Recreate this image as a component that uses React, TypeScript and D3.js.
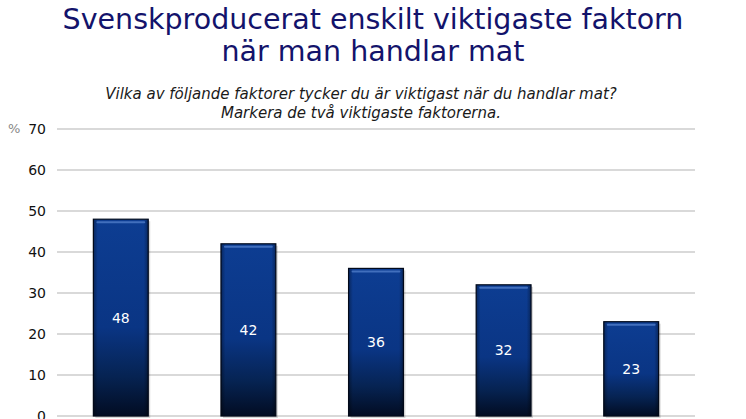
import React from 'react';
import * as d3 from 'd3';

const categories = ['A', 'B', 'C', 'D', 'E'];
const values = [48, 42, 36, 32, 23];
const yTicks = [0, 10, 20, 30, 40, 50, 60, 70];
const titleLines = ['Svenskproducerat enskilt viktigaste faktorn', 'när man handlar mat'];
const subtitleLines = [
  'Vilka av följande faktorer tycker du är viktigast när du handlar mat?',
  'Markera de två viktigaste faktorerna.',
];

const width = 746;
const height = 419;
const margin = { left: 57, right: 51, top: 129, bottom: 3 };

export default function App() {
  const x = d3
    .scaleBand<string>()
    .domain(categories)
    .range([margin.left, width - margin.right])
    .paddingInner(0.57)
    .paddingOuter(0.285);
  const y = d3
    .scaleLinear()
    .domain([0, 70])
    .range([height - margin.bottom, margin.top]);

  const font = '"DejaVu Sans", Verdana, sans-serif';

  return (
    <svg
      width={width}
      height={height}
      style={{ position: 'absolute', left: 0, top: 0, background: '#fff' }}
    >
      <defs>
        <linearGradient id="barGrad" x1="0" y1="0" x2="0" y2="1">
          <stop offset="0%" stopColor="#0d3d92" />
          <stop offset="55%" stopColor="#0a3584" />
          <stop offset="80%" stopColor="#062352" />
          <stop offset="100%" stopColor="#020c22" />
        </linearGradient>
        <linearGradient id="edgeGrad" x1="0" y1="0" x2="1" y2="0">
          <stop offset="0%" stopColor="#000" stopOpacity="0.35" />
          <stop offset="8%" stopColor="#000" stopOpacity="0" />
          <stop offset="92%" stopColor="#000" stopOpacity="0" />
          <stop offset="100%" stopColor="#000" stopOpacity="0.35" />
        </linearGradient>
      </defs>

      {/* Title */}
      {titleLines.map((t, i) => (
        <text
          key={t}
          x={373}
          y={29 + i * 32}
          textAnchor="middle"
          fontFamily={font}
          fontSize={28.5}
          fill="#13136b"
        >
          {t}
        </text>
      ))}
      {subtitleLines.map((t, i) => (
        <text
          key={t}
          x={361}
          y={99 + i * 19}
          textAnchor="middle"
          fontFamily={font}
          fontStyle="italic"
          fontSize={15}
          fill="#1a1a1a"
        >
          {t}
        </text>
      ))}

      {/* Grid */}
      {yTicks.map((t) => (
        <g key={t}>
          <line
            x1={margin.left}
            x2={width - margin.right}
            y1={y(t)}
            y2={y(t)}
            stroke="#b4b4b4"
            strokeWidth={1.2}
          />
          <text
            x={46}
            y={y(t) + 5}
            textAnchor="end"
            fontFamily={font}
            fontSize={14}
            fill="#111"
          >
            {t}
          </text>
        </g>
      ))}
      <text x={8} y={y(70) + 4} fontFamily={font} fontSize={13} fill="#888">
        %
      </text>

      {/* Bars */}
      {categories.map((c, i) => {
        const bx = x(c)!;
        const bw = x.bandwidth();
        const top = y(values[i]);
        const bottom = y(0);
        return (
          <g key={c}>
            <rect x={bx + 2} y={top + 2} width={bw} height={bottom - top} fill="#000" opacity={0.15} />
            <rect x={bx} y={top} width={bw} height={bottom - top} fill="url(#barGrad)" stroke="#020a1c" strokeWidth={1.2} />
            <rect x={bx} y={top} width={bw} height={bottom - top} fill="url(#edgeGrad)" />
            <line x1={bx + 4} x2={bx + bw - 4} y1={top + 3} y2={top + 3} stroke="#4f7cc8" strokeWidth={2} strokeLinecap="round" opacity={0.8} />
            <text
              x={bx + bw / 2}
              y={(top + bottom) / 2 + 5}
              textAnchor="middle"
              fontFamily={font}
              fontSize={14}
              fill="#fff"
            >
              {values[i]}
            </text>
          </g>
        );
      })}
    </svg>
  );
}
